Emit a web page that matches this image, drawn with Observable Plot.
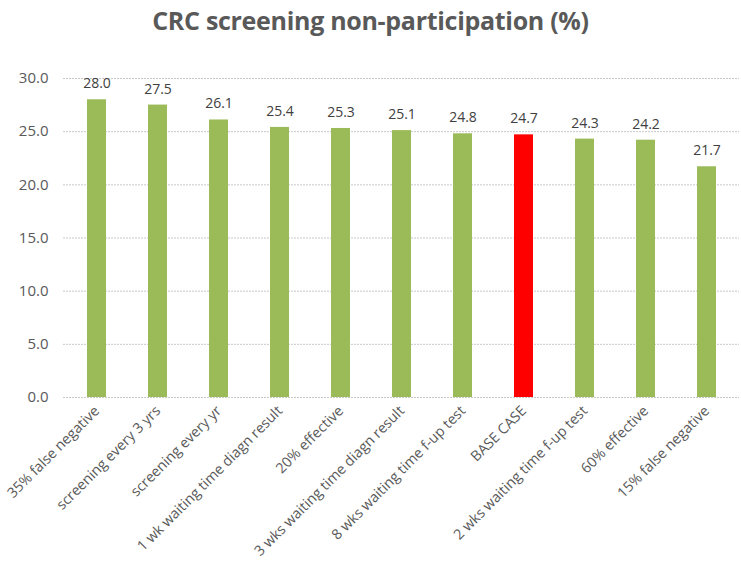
<!DOCTYPE html>
<html>
<head>
<meta charset="utf-8">
<script src="https://cdn.jsdelivr.net/npm/d3@7"></script>
<script src="https://cdn.jsdelivr.net/npm/@observablehq/plot@0.6"></script>
<style>
  body { margin: 0; background: #fff; font-family: "Open Sans", sans-serif; }
  #title { height: 50px; line-height: 40px; text-align: center; font-size: 25px; font-weight: bold; color: #595959; letter-spacing: -0.3px; }
</style>
</head>
<body>
<div id="title">CRC screening non-participation (%)</div>
<div id="chart"></div>
<script>
const categories = [
  "35% false negative",
  "screening every 3 yrs",
  "screening every yr",
  "1 wk waiting time diagn result",
  "20% effective",
  "3 wks waiting time diagn result",
  "8 wks waiting time f-up test",
  "BASE CASE",
  "2 wks waiting time f-up test",
  "60% effective",
  "15% false negative"
];
const values = [28.0, 27.5, 26.1, 25.4, 25.3, 25.1, 24.8, 24.7, 24.3, 24.2, 21.7];
const highlight = "BASE CASE";
const yTicks = [0, 5, 10, 15, 20, 25, 30];

const data = categories.map((c, i) => ({category: c, value: values[i]}));

const chart = Plot.plot({
  width: 741,
  height: 522,
  marginTop: 28,
  marginBottom: 175,
  marginLeft: 63,
  marginRight: 2,
  style: {fontFamily: "Open Sans, sans-serif", color: "#595959"},
  x: {domain: categories, paddingInner: 0.69, paddingOuter: 0.345, label: null},
  y: {domain: [0, 30], label: null},
  marks: [
    Plot.gridY(yTicks, {stroke: "#c8c8c8", strokeOpacity: 1, strokeDasharray: "2,1"}),
    Plot.axisY(yTicks, {tickSize: 0, tickPadding: 15, tickFormat: d => d.toFixed(1), fontSize: 15, fill: "#595959", label: null}),
    Plot.axisX({tickSize: 0, tickPadding: 11, tickRotate: -45, fontSize: 14.3, fill: "#595959", label: null}),
    Plot.barY(data, {x: "category", y: "value", fill: d => d.category === highlight ? "#FF0000" : "#9BBB59"}),
    Plot.text(data, {x: "category", y: "value", text: d => d.value.toFixed(1), dy: -16, fontSize: 14, fill: "#404040"})
  ]
});
document.getElementById("chart").appendChild(chart);
</script>
</body>
</html>
